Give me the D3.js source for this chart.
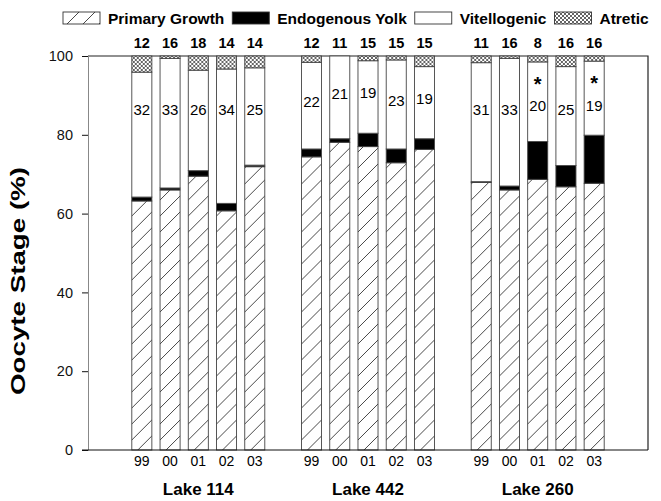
<!DOCTYPE html>
<html>
<head>
<meta charset="utf-8">
<script src="https://cdn.jsdelivr.net/npm/d3@7"></script>
<style>
body { margin: 0; background: #fff; }
text { font-family: "Liberation Sans", Arial, sans-serif; }
</style>
</head>
<body>
<div class="chart"></div>
<script>
const lakes = ["Lake 114", "Lake 442", "Lake 260"];
const years = ["99", "00", "01", "02", "03"];
const stages = ["Primary Growth", "Endogenous Yolk", "Vitellogenic", "Atretic"];

// percent of oocytes in each stage, one row per lake, one value per year
const primaryGrowth = [[63.2, 66.0, 69.5, 60.7, 71.9], [74.4, 78.1, 77.0, 72.9, 76.3], [67.9, 66.0, 68.7, 66.8, 67.7]];
const endogenousYolk = [[1.0, 0.5, 1.4, 1.9, 0.4], [2.0, 0.9, 3.4, 3.5, 2.7], [0.2, 1.0, 9.6, 5.4, 12.2]];
const vitellogenic = [[31.7, 32.9, 25.5, 34.1, 24.7], [22.0, 21.0, 18.4, 22.6, 18.3], [30.2, 32.4, 20.2, 25.1, 18.8]];
const atretic = [[4.1, 0.6, 3.6, 3.3, 3.0], [1.6, 0.0, 1.2, 1.0, 2.7], [1.7, 0.6, 1.5, 2.7, 1.3]];

const sampleN = [[12, 16, 18, 14, 14], [12, 11, 15, 15, 15], [11, 16, 8, 16, 16]];
const vitLabels = [[32, 33, 26, 34, 25], [22, 21, 19, 23, 19], [31, 33, 20, 25, 19]];
const significant = [[0, 0, 0, 0, 0], [0, 0, 0, 0, 0], [0, 0, 1, 0, 1]];
const yTicks = [0, 20, 40, 60, 80, 100];

const width = 661;
const height = 501;
const margin = {top: 56, right: 13, bottom: 51, left: 88};
const w = width - margin.left - margin.right;
const h = height - margin.top - margin.bottom;

const svg = d3.select('.chart')
    .append('svg')
    .attr('width', width)
    .attr('height', height);

const defs = svg.append('defs');
defs.append('pattern')
    .attr('id', 'hatch')
    .attr('patternUnits', 'userSpaceOnUse')
    .attr('width', 16)
    .attr('height', 16)
    .call(p => {
        p.append('rect').attr('width', 16).attr('height', 16).attr('fill', '#fff');
        p.append('path')
            .attr('d', 'M0,16 L16,0 M-4,4 L4,-4 M12,20 L20,12')
            .attr('stroke', '#333')
            .attr('stroke-width', 0.9);
    });
defs.append('pattern')
    .attr('id', 'cross')
    .attr('patternUnits', 'userSpaceOnUse')
    .attr('width', 4)
    .attr('height', 4)
    .call(p => {
        p.append('rect').attr('width', 4).attr('height', 4).attr('fill', '#fff');
        p.append('path')
            .attr('d', 'M0,0 L4,4 M4,0 L0,4')
            .attr('stroke', '#222')
            .attr('stroke-width', 0.7);
    });

const fills = ['url(#hatch)', '#000', '#fff', 'url(#cross)'];

// flatten into one row per bar
const rows = [];
lakes.forEach((lake, i) => {
    years.forEach((yr, j) => {
        rows.push({
            lake: lake, year: yr,
            values: [primaryGrowth[i][j], endogenousYolk[i][j], vitellogenic[i][j], atretic[i][j]],
            n: sampleN[i][j], label: vitLabels[i][j], star: significant[i][j]
        });
    });
});
rows.forEach(r => {
    let acc = 0;
    r.segs = r.values.map((v, k) => {
        const s = {k: k, y0: acc, y1: acc + v};
        acc += v;
        return s;
    });
});

const x0 = d3.scaleBand().domain(lakes).range([0, w]).paddingInner(0).paddingOuter(0.15);
const x1 = d3.scaleBand().domain(years).range([0, x0.bandwidth()]).paddingInner(0.29).paddingOuter(0.65);
const y = d3.scaleLinear().domain([0, 100]).range([h, 0]);

const g = svg.append('g').attr('transform', `translate(${margin.left},${margin.top})`);

// frame
g.append('path')
    .attr('d', `M0,0 H${w} V${h}`)
    .attr('fill', 'none')
    .attr('stroke', '#222')
    .attr('stroke-width', 1.2);

const bars = g.selectAll('g.bar')
    .data(rows)
    .enter()
    .append('g')
    .attr('class', 'bar')
    .attr('transform', d => `translate(${x0(d.lake) + x1(d.year)},0)`);

bars.selectAll('rect')
    .data(d => d.segs.filter(s => s.y1 > s.y0))
    .enter()
    .append('rect')
    .attr('x', 0)
    .attr('y', s => y(s.y1))
    .attr('width', x1.bandwidth())
    .attr('height', s => y(s.y0) - y(s.y1))
    .attr('fill', s => fills[s.k])
    .attr('stroke', '#444')
    .attr('stroke-width', 0.9);

// number inside the vitellogenic part
bars.append('text')
    .attr('x', x1.bandwidth() / 2)
    .attr('y', d => {
        const s = d.segs[2];
        if (d.star) return y(87.5);
        return y(Math.max(86.5, (s.y0 + s.y1) / 2 + 1));
    })
    .attr('dy', '0.36em')
    .attr('text-anchor', 'middle')
    .attr('font-size', 15)
    .text(d => d.label);

bars.filter(d => d.star)
    .append('text')
    .attr('x', x1.bandwidth() / 2)
    .attr('y', d => y(d.segs[2].y1) + 29)
    .attr('text-anchor', 'middle')
    .attr('font-size', 20)
    .attr('font-weight', 'bold')
    .text('*');

// sample sizes above the frame
bars.append('text')
    .attr('x', x1.bandwidth() / 2)
    .attr('y', -8)
    .attr('text-anchor', 'middle')
    .attr('font-size', 14.5)
    .attr('font-weight', 'bold')
    .text(d => d.n);

// year labels
bars.append('text')
    .attr('x', x1.bandwidth() / 2)
    .attr('y', h + 16)
    .attr('text-anchor', 'middle')
    .attr('font-size', 14)
    .text(d => d.year);

// lake labels
g.selectAll('text.lake')
    .data(lakes)
    .enter()
    .append('text')
    .attr('class', 'lake')
    .attr('x', d => x0(d) + x0.bandwidth() / 2)
    .attr('y', h + 45)
    .attr('text-anchor', 'middle')
    .attr('font-size', 17)
    .attr('font-weight', 'bold')
    .text(d => d);

// y axis
const yAxis = g.append('g')
    .call(d3.axisLeft(y).tickValues(yTicks).tickSize(6).tickPadding(9).tickSizeOuter(0));
yAxis.select('.domain').attr('stroke', '#888');
yAxis.selectAll('.tick line').attr('stroke', '#111');
yAxis.selectAll('.tick text')
    .attr('font-size', 14.5)
    .attr('font-family', '"Liberation Sans", Arial, sans-serif')
    .attr('fill', '#111');

// bottom line
g.append('line')
    .attr('x1', -6)
    .attr('x2', w)
    .attr('y1', h)
    .attr('y2', h)
    .attr('stroke', '#111')
    .attr('stroke-width', 1.2);

g.append('text')
    .attr('transform', `translate(-63,${h / 2 + 28}) rotate(-90)`)
    .attr('text-anchor', 'middle')
    .attr('font-size', 20)
    .attr('font-weight', 'bold')
    .attr('textLength', 228)
    .attr('lengthAdjust', 'spacingAndGlyphs')
    .text('Oocyte Stage (%)');

// legend
const legend = svg.append('g').attr('transform', 'translate(63,12)');
let lx = 0;
stages.forEach((name, k) => {
    legend.append('rect')
        .attr('x', lx)
        .attr('y', 0)
        .attr('width', 37)
        .attr('height', 12)
        .attr('fill', fills[k])
        .attr('stroke', '#333')
        .attr('stroke-width', 0.9);
    const t = legend.append('text')
        .attr('x', lx + 45)
        .attr('y', 11.8)
        .attr('font-size', 15.5)
        .attr('font-weight', 'bold')
        .text(name);
    lx += 45 + t.node().getComputedTextLength() + 8;
});
</script>
</body>
</html>
